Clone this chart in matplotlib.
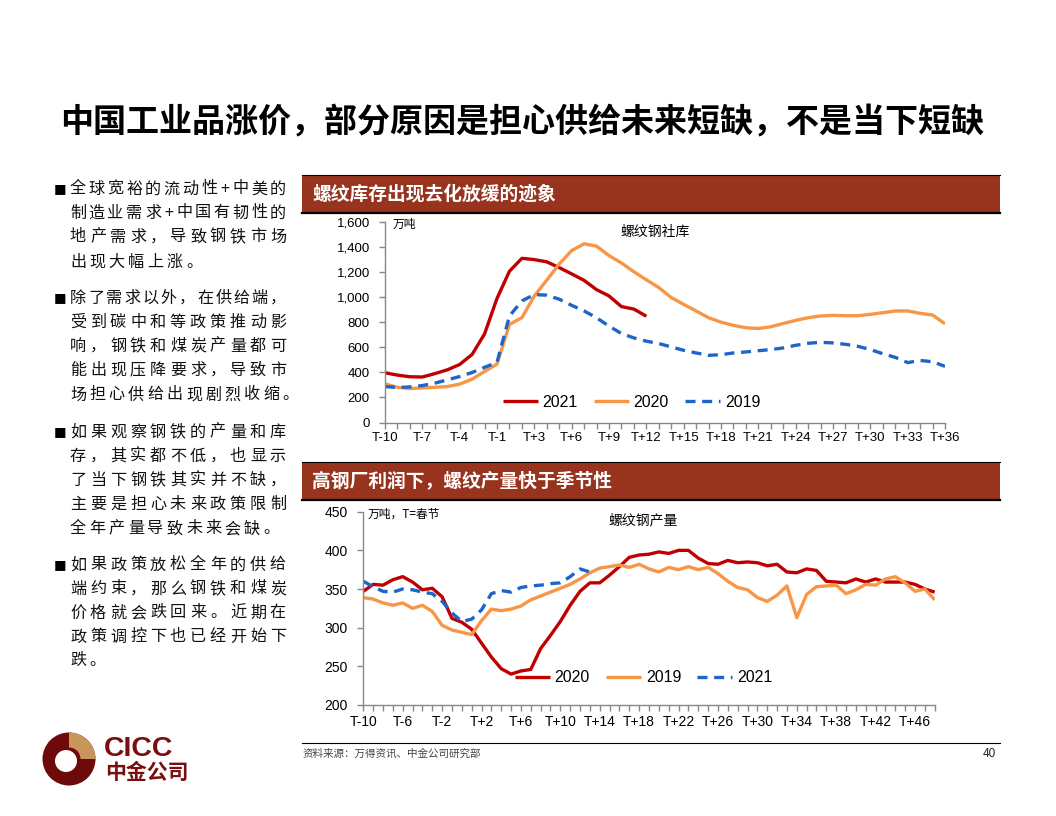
import matplotlib
matplotlib.use('Agg')
import matplotlib.pyplot as plt
from matplotlib.patches import Rectangle, Circle, Wedge

W, H = 1056, 816
CJK = ['Noto Sans CJK SC', 'DejaVu Sans']
NUM = ['Liberation Sans Narrow', 'Liberation Sans', 'DejaVu Sans']
plt.rcParams['font.family'] = CJK

# ---------------- data ----------------
title = '中国工业品涨价，部分原因是担心供给未来短缺，不是当下短缺'
bar1_title = '螺纹库存出现去化放缓的迹象'
bar2_title = '高钢厂利润下，螺纹产量快于季节性'

bullets = [
    ['全球宽裕的流动性+中美的', '制造业需求+中国有韧性的', '地产需求，导致钢铁市场', '出现大幅上涨。'],
    ['除了需求以外，在供给端，', '受到碳中和等政策推动影', '响，钢铁和煤炭产量都可', '能出现压降要求，导致市', '场担心供给出现剧烈收缩。'],
    ['如果观察钢铁的产量和库', '存，其实都不低，也显示', '了当下钢铁其实并不缺，', '主要是担心未来政策限制', '全年产量导致未来会缺。'],
    ['如果政策放松全年的供给', '端约束，那么钢铁和煤炭', '价格就会跌回来。近期在', '政策调控下也已经开始下', '跌。'],
]
bullet_line_y = [[189, 213, 237, 262], [298, 322, 346, 370, 395],
                 [432, 456, 480, 504, 529], [565, 589, 613, 637, 661]]

top_categories = ['T-10', 'T-9', 'T-8', 'T-7', 'T-6', 'T-5', 'T-4', 'T-3', 'T-2', 'T-1'] + \
                 ['T+%d' % k for k in range(1, 37)]
inv_2021 = [397, 378, 365, 363, 390, 420, 463, 543, 707, 990, 1207, 1310, 1300, 1282,
            1236, 1186, 1134, 1060, 1010, 925, 905, 848]
inv_2020 = [308, 281, 271, 276, 281, 287, 306, 346, 407, 466,
            783, 836, 1010, 1136, 1265, 1372, 1426, 1407, 1332, 1273,
            1203, 1139, 1077, 997, 943, 890, 836, 801, 775, 756,
            750, 764, 790, 815, 836, 850, 855, 852, 852, 863,
            876, 890, 890, 871, 858, 788]
inv_2019 = [287, 279, 284, 295, 314, 340, 367, 399, 440, 480,
            850, 970, 1021, 1016, 984, 935, 890, 836, 769, 710,
            675, 649, 630, 603, 576, 555, 536, 541, 555, 563,
            573, 582, 595, 616, 632, 640, 635, 624, 608, 582,
            549, 520, 478, 495, 485, 448]

bot_categories = ['T-10', 'T-9', 'T-8', 'T-7', 'T-6', 'T-5', 'T-4', 'T-3', 'T-2', 'T-1', 'T'] + \
                 ['T+%d' % k for k in range(1, 49)]
out_2020 = [347, 356, 355, 362, 366, 359, 349, 351, 340, 312,
            307, 298, 280, 262, 247, 240, 244, 246, 273, 290,
            308, 329, 347, 358, 358, 368, 379, 391, 394, 395,
            398, 396, 400, 400, 390, 383, 382, 387, 384, 385,
            384, 380, 382, 372, 371, 376, 374, 360, 359, 358,
            363, 359, 363, 359, 359, 359, 356, 350, 346]
out_2019 = [339, 337, 332, 329, 332, 325, 329, 321, 303, 297,
            294, 291, 309, 324, 322, 324, 328, 336, 341, 346,
            351, 356, 363, 371, 377, 379, 381, 378, 382, 376,
            372, 378, 375, 379, 375, 378, 370, 360, 352, 349,
            339, 334, 342, 354, 313, 343, 353, 354, 355, 344,
            349, 356, 355, 363, 366, 358, 347, 350, 336]
out_2021 = [360, 353, 347, 346, 350, 349, 346, 344, 334, 319,
            308, 311, 323, 344, 348, 346, 352, 354, 355, 357,
            358, 366, 376, 372]

RED = '#C00000'
ORANGE = '#F79646'
BLUE = '#1F64C8'
BAR = '#98331E'
AXC = '#888888'

fig = plt.figure(figsize=(W / 100, H / 100), dpi=100)

# background / decoration layer in pixel coordinates
bg = fig.add_axes([0, 0, 1, 1])
bg.set_xlim(0, W)
bg.set_ylim(H, 0)
bg.axis('off')

bg.text(522, 123, title, ha='center', va='center', fontsize=23.8, fontweight='bold', family=CJK)

for y0, txt in [(175, bar1_title), (462, bar2_title)]:
    bg.add_patch(Rectangle((302, y0), 698, 38, facecolor=BAR, edgecolor='none'))
    bg.plot([302, 1000], [y0, y0], color='black', lw=0.8)
    bg.plot([302, 1000], [y0 + 38, y0 + 38], color='black', lw=1.6)
    bg.text(312, y0 + 19, txt, color='white', fontsize=13.5, fontweight='bold', va='center', ha='left')

# justified bullet text, placed character by character
FS = 11.6
EM = FS * 100 / 72.0
LEFT, RIGHT = 70, 286


def char_w(ch):
    return EM * (0.62 if ord(ch) < 128 else 1.0)


for lines, ys in zip(bullets, bullet_line_y):
    bg.text(54, ys[0], '■', fontsize=9.5, va='center', ha='left', family=['DejaVu Sans'])
    for k, (ln, yy) in enumerate(zip(lines, ys)):
        widths = [char_w(c) for c in ln]
        last = (k == len(lines) - 1)
        if last or len(ln) < 2:
            gap = 0.2 * EM
        else:
            gap = (RIGHT - LEFT - sum(widths)) / (len(ln) - 1)
        x = LEFT
        for c, w in zip(ln, widths):
            bg.text(x + w / 2, yy, c, fontsize=FS, va='center', ha='center', color='#111111')
            x += w + gap

# footer
bg.plot([302, 1000], [743, 743], color='black', lw=0.8)
bg.text(303, 754, '资料来源：万得资讯、中金公司研究部', fontsize=7.6, va='center', ha='left', color='#444444')
bg.text(996, 754, '40', fontsize=8.5, va='center', ha='right', color='#222222', family=NUM)

# logo
bg.add_patch(Circle((69, 759), 26.5, facecolor='#6E0A0A', edgecolor='none'))
bg.add_patch(Wedge((69, 759), 26.5, 270, 360, width=15, facecolor='#C8965A', edgecolor='none'))
bg.add_patch(Circle((66, 761), 11, facecolor='white', edgecolor='none'))
bg.text(104, 749, 'CICC', fontsize=20.5, fontweight='bold', color='#7A0E0E', va='center', ha='left',
        family=['Liberation Sans', 'DejaVu Sans'])
bg.text(105, 772, '中金公司', fontsize=15, fontweight='bold', color='#7A0E0E', va='center', ha='left')


def style_axes(ax, labelsize):
    ax.set_facecolor('none')
    for s in ['top', 'right']:
        ax.spines[s].set_visible(False)
    for s in ['left', 'bottom']:
        ax.spines[s].set_color(AXC)
        ax.spines[s].set_linewidth(1.0)
    ax.tick_params(axis='both', direction='out', color=AXC, length=4, width=1)
    ax.tick_params(axis='y', pad=7)
    ax.tick_params(axis='x', pad=3)
    for lab in ax.get_xticklabels() + ax.get_yticklabels():
        lab.set_fontfamily(NUM)
        lab.set_fontsize(labelsize)


# ---------------- top chart ----------------
ax1 = fig.add_axes([385 / W, 1 - 422.5 / H, 560 / W, 200.5 / H])
x1 = list(range(len(top_categories)))
ax1.plot(x1[:len(inv_2021)], inv_2021, color=RED, lw=2.4, label='2021', solid_capstyle='butt')
ax1.plot(x1, inv_2020, color=ORANGE, lw=2.4, label='2020', solid_capstyle='butt')
ax1.plot(x1, inv_2019, color=BLUE, lw=2.4, ls=(0, (3, 2)), label='2019')
ax1.set_xlim(0, len(top_categories) - 1)
ax1.set_ylim(0, 1600)
ax1.set_yticks(list(range(0, 1601, 200)))
ax1.set_yticklabels(['{:,}'.format(v) for v in range(0, 1601, 200)])
ax1.set_xticks(x1)
ax1.set_xticklabels([c if i % 3 == 0 else '' for i, c in enumerate(top_categories)])
style_axes(ax1, 9.5)
leg1 = ax1.legend(loc='center left', bbox_to_anchor=(0.21, 0.10), ncol=3, frameon=False,
                  handlelength=2.2, handletextpad=0.3, columnspacing=1.0, borderpad=0, borderaxespad=0,
                  prop={'family': NUM, 'size': 11.5})
ax1.text(0.014, 0.99, '万吨', transform=ax1.transAxes, fontsize=8.5, va='center', ha='left')
ax1.text(0.482, 0.952, '螺纹钢社库', transform=ax1.transAxes, fontsize=10, va='center', ha='center')

# ---------------- bottom chart ----------------
ax2 = fig.add_axes([363.3 / W, 1 - 705 / H, 571.4 / W, 193.3 / H])
x2 = list(range(len(bot_categories)))
ax2.plot(x2, out_2020, color=RED, lw=2.4, label='2020', solid_capstyle='butt')
ax2.plot(x2, out_2019, color=ORANGE, lw=2.4, label='2019', solid_capstyle='butt')
ax2.plot(x2[:len(out_2021)], out_2021, color=BLUE, lw=2.4, ls=(0, (3, 2)), label='2021')
ax2.set_xlim(0, len(bot_categories) - 1)
ax2.set_ylim(200, 450)
ax2.set_yticks(list(range(200, 451, 50)))
ax2.set_xticks(x2)
ax2.set_xticklabels([c if i % 4 == 0 else '' for i, c in enumerate(bot_categories)])
style_axes(ax2, 10)
leg2 = ax2.legend(loc='center left', bbox_to_anchor=(0.265, 0.14), ncol=3, frameon=False,
                  handlelength=2.2, handletextpad=0.3, columnspacing=1.0, borderpad=0, borderaxespad=0,
                  prop={'family': NUM, 'size': 11.5})
ax2.text(0.008, 0.985, '万吨，T=春节', transform=ax2.transAxes, fontsize=8.5, va='center', ha='left')
ax2.text(0.49, 0.957, '螺纹钢产量', transform=ax2.transAxes, fontsize=10, va='center', ha='center')

fig.savefig('out.png', dpi=100)
